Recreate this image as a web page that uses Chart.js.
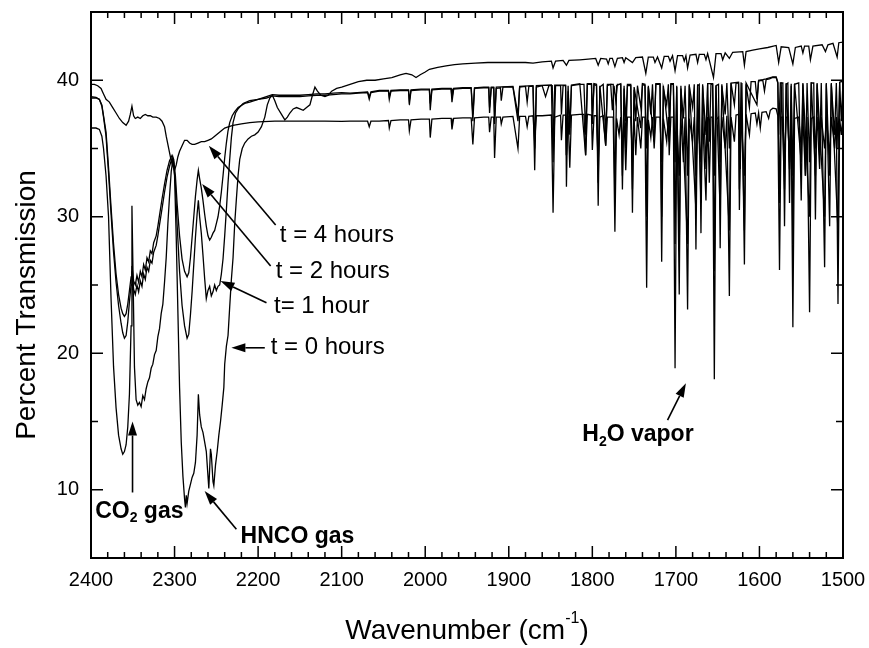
<!DOCTYPE html>
<html>
<head>
<meta charset="utf-8">
<title>Percent Transmission vs Wavenumber</title>
<script src="https://cdn.jsdelivr.net/npm/chart.js@4.4.0/dist/chart.umd.min.js"></script>
<style>
  html, body { margin: 0; padding: 0; background: #fff; }
  #wrap { width: 869px; height: 648px; }
</style>
</head>
<body>
<div id="wrap"><canvas id="spectrum" width="869" height="648"></canvas></div>
<script>
// [wavenumber cm-1, percent transmission]
const t0Hours = [
  [2400, 36.5], [2394, 36.5], [2390, 36.4], [2387, 35.9], [2385, 35.0], [2382, 33.0], [2379, 30.0],
  [2376, 24.0], [2373, 19.0], [2370, 16.0], [2367, 14.0], [2364, 13.0], [2362, 12.6], [2360, 12.8],
  [2358, 13.3], [2356, 14.6], [2354, 17.0], [2352, 22.0], [2351, 30.8], [2350, 27.0], [2348, 19.0],
  [2346, 16.6], [2344, 16.2], [2342, 16.4], [2340, 16.1], [2338, 16.9], [2336, 16.6], [2334, 17.4],
  [2332, 17.9], [2330, 18.2], [2328, 18.9], [2326, 19.2], [2324, 19.9], [2322, 20.2], [2320, 21.2],
  [2318, 21.8], [2316, 22.9], [2314, 23.6], [2312, 25.2], [2310, 27.0], [2308, 29.5], [2306, 31.5],
  [2304, 33.3], [2302, 34.2], [2300, 33.0], [2298, 28.5], [2296, 23.0], [2294, 17.5], [2292, 13.5],
  [2290, 11.0], [2288, 9.3], [2287, 8.7], [2286, 9.6], [2285, 9.0], [2283, 9.9], [2281, 10.4],
  [2279, 10.9], [2277, 11.2], [2275, 12.0], [2273, 14.0], [2271.5, 17.0], [2270, 15.5], [2268, 14.6],
  [2266, 14.2], [2264, 13.5], [2262, 12.8], [2260, 11.0], [2259, 10.1], [2258, 11.5], [2257, 13.0],
  [2256, 12.6], [2254, 10.6], [2253, 10.3], [2251, 11.8], [2249, 12.8], [2247, 14.0], [2245, 15.0],
  [2243, 16.2], [2241, 17.5], [2240, 19.2], [2238, 20.5], [2236, 21.3], [2234, 23.4], [2232, 25.4],
  [2230, 27.0], [2228, 29.5], [2226, 31.3], [2224, 33.0], [2222, 34.2], [2219, 35.0], [2216, 35.4],
  [2212, 35.7], [2208, 35.9], [2204, 36.0], [2200, 36.2], [2196, 36.6], [2192, 37.3], [2189, 38.2],
  [2186, 38.7], [2183, 38.9], [2180, 38.5], [2177, 38.0], [2172, 37.5], [2168, 37.1], [2165, 37.3],
  [2162, 37.6], [2158, 37.9], [2154, 38.0], [2150, 37.9], [2146, 37.8], [2142, 38.0], [2138, 38.2],
  [2135, 38.9], [2132, 39.5], [2129, 39.2], [2125, 38.9], [2120, 38.8], [2116, 38.9], [2112, 39.2],
  [2106, 39.4], [2100, 39.5], [2090, 39.7], [2080, 39.9], [2070, 40.0], [2060, 40.0], [2050, 40.1],
  [2040, 40.2], [2030, 40.4], [2023, 40.5], [2016, 40.4], [2011, 40.2], [2006, 40.4], [2000, 40.6],
  [1995, 40.8], [1985, 40.95], [1975, 41.05], [1965, 41.15], [1955, 41.2], [1940, 41.25], [1925, 41.3],
  [1910, 41.3], [1895, 41.3], [1880, 41.3], [1871, 41.25], [1860, 41.35], [1849, 41.4], [1847, 40.9],
  [1844, 41.4], [1835, 41.45], [1831, 41.1], [1828, 41.45], [1815, 41.5], [1805, 41.55], [1796, 41.6],
  [1793, 41.1], [1790, 41.6], [1783, 41.55], [1781, 41.2], [1779, 41.6], [1776, 41.6], [1773, 41.0],
  [1770, 41.6], [1764, 41.65], [1762, 41.3], [1760, 41.65], [1752, 41.3], [1748, 41.65], [1740, 41.7],
  [1736, 40.5], [1733, 41.7], [1727, 41.7], [1725, 41.3], [1722, 41.7], [1717, 40.9], [1714, 41.75],
  [1709, 41.75], [1707, 41.4], [1704, 41.8], [1701, 40.7], [1698, 41.8], [1692, 41.8], [1690, 41.4],
  [1688, 41.8], [1686, 40.9], [1683, 41.85], [1676, 41.9], [1674, 41.3], [1672, 41.9], [1666, 41.9],
  [1664, 41.5], [1662, 41.95], [1655, 40.2], [1652, 41.95], [1646, 41.95], [1644, 41.5], [1641, 42.0],
  [1636, 41.6], [1632, 42.05], [1620, 42.1], [1618, 41.1], [1616, 42.1], [1608, 42.2], [1600, 42.3],
  [1590, 42.4], [1580, 42.55], [1577, 41.3], [1574, 42.45], [1565, 42.4], [1560, 41.2], [1557, 42.4],
  [1550, 42.5], [1548, 42.0], [1546, 42.5], [1541, 42.5], [1539, 41.5], [1536, 42.5], [1525, 42.6],
  [1521, 42.1], [1518, 42.6], [1512, 42.7], [1507, 41.7], [1505, 42.75], [1500, 42.8]
];

const t1Hour = [
  [2400, 38.7], [2394, 38.7], [2390, 38.6], [2387, 38.1], [2385, 37.3], [2382, 35.9], [2379, 33.2],
  [2376, 30.2], [2373, 27.4], [2370, 25.2], [2367, 23.5], [2364, 22.2], [2362, 21.5], [2360, 21.1],
  [2358, 21.3], [2356, 22.3], [2354, 23.8], [2352, 25.0], [2351, 26.0], [2349, 24.7], [2347, 24.3],
  [2345, 25.0], [2343, 24.5], [2341, 25.3], [2339, 24.9], [2337, 25.8], [2335, 25.4], [2333, 26.3],
  [2331, 26.0], [2329, 26.8], [2327, 26.6], [2325, 27.4], [2322, 27.9], [2320, 28.6], [2318, 29.4],
  [2315, 30.6], [2312, 31.8], [2309, 32.9], [2306, 33.7], [2303, 34.3], [2301, 34.0], [2299, 32.3],
  [2297, 29.5], [2294, 26.0], [2291, 23.5], [2288, 22.0], [2285, 21.1], [2283, 21.4], [2281, 22.8],
  [2279, 24.5], [2277, 26.5], [2275, 28.5], [2273, 30.2], [2271.5, 31.2], [2270, 30.0], [2268, 28.8],
  [2266, 27.2], [2264, 25.5], [2262, 24.0], [2260, 24.6], [2258, 24.9], [2256, 24.2], [2254, 24.5],
  [2252, 25.0], [2250, 24.6], [2248, 24.9], [2246, 25.0], [2244, 25.8], [2242, 26.9], [2240, 28.6],
  [2238, 30.5], [2236, 32.5], [2234, 34.2], [2232, 35.8], [2230, 36.9], [2227, 37.6], [2224, 37.9],
  [2218, 38.3], [2210, 38.5], [2200, 38.6], [2190, 38.7], [2183, 38.85], [2175, 38.8], [2165, 38.8],
  [2150, 38.8], [2140, 38.85], [2130, 38.9], [2120, 38.9], [2110, 38.95], [2100, 39.0],
  [2090, 39.0], [2080, 39.05], [2069, 39.1], [2067, 38.6], [2065, 39.1], [2055, 39.2], [2044, 39.2],
  [2043, 38.6], [2041, 39.2], [2030, 39.25], [2020, 39.25], [2019, 38.2], [2017, 39.25], [2005, 39.3],
  [1995, 39.3], [1994, 37.8], [1992, 39.3], [1980, 39.35], [1969, 39.35], [1968, 38.4], [1966, 39.35],
  [1955, 39.4], [1945, 39.4], [1943, 37.0], [1941, 39.4], [1930, 39.45], [1924, 39.45], [1923, 37.6],
  [1921, 39.45], [1918, 39.45], [1917, 36.8], [1915, 39.4], [1910, 39.45], [1909, 38.5], [1907, 39.5],
  [1895, 39.5], [1889, 37.0], [1887, 39.5], [1880, 39.55], [1878, 38.4], [1876, 39.55], [1871, 39.55],
  [1869, 33.4], [1867, 39.5], [1860, 39.6], [1856, 38.8], [1852, 39.6], [1848, 39.6], [1846, 35.5],
  [1844, 39.6], [1838, 39.6], [1837, 37.5], [1835, 39.6], [1832, 39.6], [1831, 32.2], [1829, 39.2],
  [1827, 36.5], [1825, 39.6], [1815, 39.7], [1810, 39.7], [1808, 36.0], [1806, 39.7], [1801, 39.7],
  [1800, 37.2], [1798, 39.7], [1795, 39.6], [1793, 30.8], [1791, 39.5], [1787, 39.7], [1784, 36.0],
  [1782, 39.6], [1778, 39.7], [1776, 37.8], [1774, 39.6], [1772, 38.5], [1770, 39.7], [1766, 39.7],
  [1764, 32.0], [1762, 39.4], [1760, 37.0], [1758, 39.6], [1754, 39.6], [1752, 30.3], [1750, 39.3],
  [1748, 37.0], [1746, 39.6], [1742, 38.0], [1740, 39.7], [1737, 39.6], [1735, 35.0], [1733, 39.5],
  [1730, 37.5], [1728, 39.7], [1726, 36.5], [1724, 39.7], [1719, 39.7], [1717, 26.7], [1715, 39.4],
  [1711, 38.2], [1709, 39.7], [1708, 36.8], [1706, 39.7], [1703, 39.7], [1701, 34.0], [1699, 39.5],
  [1696, 24.3], [1694, 39.4], [1691, 37.2], [1689, 39.6], [1686, 33.0], [1684, 39.6], [1680, 38.0],
  [1678, 39.7], [1676, 27.6], [1674, 39.6], [1672, 39.7], [1670, 28.8], [1668, 39.6], [1664, 36.0],
  [1662, 39.7], [1660, 35.5], [1658, 39.7], [1656, 39.7], [1654, 33.0], [1652, 39.6], [1649, 39.7],
  [1647, 27.7], [1645, 39.6], [1641, 37.5], [1639, 39.8], [1636, 35.0], [1634, 39.8], [1630, 38.2],
  [1628, 39.8], [1625, 39.8], [1623, 33.5], [1621, 39.8], [1618, 26.5], [1616, 39.7], [1612, 38.0],
  [1610, 39.9], [1605, 39.9], [1603, 38.6], [1601, 39.95], [1596, 40.0], [1594, 39.2], [1592, 40.05],
  [1588, 40.1], [1584, 40.2], [1580, 40.2], [1578, 39.8], [1577, 36.0], [1575, 39.8], [1572, 39.8],
  [1570, 29.3], [1568, 39.7], [1566, 39.8], [1564, 31.0], [1562, 39.6], [1560, 33.0], [1558, 39.7],
  [1553, 39.8], [1550, 31.2], [1548, 39.7], [1545, 33.0], [1543, 39.8], [1540, 34.0], [1538, 39.8],
  [1535, 39.8], [1533, 29.8], [1531, 39.7], [1528, 34.5], [1526, 39.8], [1522, 26.3], [1520, 39.7],
  [1516, 29.3], [1514, 39.7], [1510, 36.0], [1508, 39.8], [1506, 35.0], [1504, 39.8], [1502, 37.0],
  [1500, 39.9]
];

const t2Hours = [
  [2400, 38.8], [2394, 38.75], [2390, 38.6], [2387, 38.2], [2385, 37.4], [2382, 36.2], [2379, 33.6],
  [2376, 30.7], [2373, 28.0], [2370, 25.8], [2367, 24.3], [2364, 23.3], [2362, 22.9], [2360, 22.7],
  [2358, 22.9], [2356, 23.6], [2354, 24.6], [2352, 25.6], [2351, 26.4], [2349, 25.3], [2347, 25.0],
  [2345, 25.7], [2343, 25.2], [2341, 26.0], [2339, 25.6], [2337, 26.5], [2335, 26.1], [2333, 27.0],
  [2331, 26.7], [2329, 27.5], [2327, 27.3], [2325, 28.1], [2322, 28.6], [2320, 29.3], [2318, 30.1],
  [2315, 31.3], [2312, 32.4], [2309, 33.4], [2306, 34.1], [2303, 34.5], [2301, 34.2], [2299, 33.0],
  [2297, 31.0], [2294, 28.6], [2291, 26.9], [2288, 26.0], [2285, 25.6], [2283, 25.9], [2281, 27.0],
  [2279, 28.5], [2277, 30.0], [2275, 31.5], [2273, 32.7], [2271.5, 33.4], [2270, 32.8], [2268, 32.1],
  [2266, 31.2], [2264, 30.2], [2262, 29.3], [2260, 28.6], [2258, 28.3], [2256, 28.5], [2254, 28.8],
  [2252, 29.0], [2250, 29.5], [2248, 30.0], [2246, 30.8], [2244, 31.8], [2242, 33.0], [2240, 34.3],
  [2238, 35.4], [2236, 36.3], [2234, 36.9], [2231, 37.4], [2228, 37.7], [2224, 38.0], [2216, 38.3],
  [2210, 38.4], [2200, 38.6], [2190, 38.8], [2183, 38.95], [2175, 38.9], [2165, 38.9], [2150, 38.9],
  [2140, 38.95], [2130, 39.0], [2120, 39.0], [2110, 39.05], [2100, 39.1],
  [2090, 39.05], [2069, 39.15], [2067, 38.8], [2065, 39.15], [2055, 39.25], [2044, 39.25], [2043, 38.8],
  [2041, 39.25], [2030, 39.3], [2020, 39.3], [2019, 38.5], [2017, 39.3], [2005, 39.35], [1995, 39.35],
  [1994, 38.3], [1992, 39.35], [1980, 39.4], [1969, 39.4], [1968, 38.7], [1966, 39.4], [1955, 39.45],
  [1945, 39.45], [1943, 37.5], [1941, 39.45], [1930, 39.5], [1924, 39.5], [1923, 38.0], [1921, 39.5],
  [1918, 39.5], [1917, 37.2], [1915, 39.5], [1895, 39.55], [1889, 37.5], [1887, 39.55], [1871, 39.6],
  [1869, 35.0], [1867, 39.6], [1849, 39.65], [1847, 34.0], [1845, 39.65], [1832, 39.65], [1831, 34.5],
  [1829, 39.6], [1827, 36.0], [1825, 39.65], [1815, 39.75], [1808, 34.5], [1806, 39.75], [1801, 39.75],
  [1800, 36.8], [1798, 39.75], [1795, 39.7], [1793, 32.5], [1791, 39.6], [1784, 35.2], [1782, 39.7],
  [1775, 39.7], [1773, 31.5], [1771, 39.6], [1766, 39.75], [1764, 33.0], [1762, 39.6], [1760, 35.0],
  [1758, 39.7], [1754, 39.7], [1752, 32.0], [1750, 39.5], [1742, 36.5], [1740, 39.75], [1737, 39.7],
  [1735, 30.0], [1733, 39.6], [1726, 35.5], [1724, 39.75], [1719, 39.75], [1717, 30.0], [1715, 39.6],
  [1708, 35.5], [1706, 39.75], [1703, 39.75], [1701, 28.0], [1699, 39.6], [1696, 27.5], [1694, 39.6],
  [1686, 28.0], [1684, 39.7], [1676, 30.5], [1674, 39.7], [1670, 31.0], [1668, 39.7], [1664, 33.5],
  [1662, 39.75], [1656, 39.75], [1654, 26.0], [1652, 39.6], [1647, 30.5], [1645, 39.7], [1636, 29.0],
  [1634, 39.8], [1625, 39.85], [1624, 32.0], [1622, 39.85], [1618, 29.0], [1616, 39.8], [1603, 38.2],
  [1601, 40.0], [1596, 40.05], [1592, 40.1], [1584, 40.25], [1580, 40.25], [1578, 39.85], [1576, 31.0],
  [1574, 39.85], [1570, 32.0], [1568, 39.8], [1564, 34.0], [1562, 39.75], [1560, 28.0], [1558, 39.75],
  [1550, 34.0], [1548, 39.8], [1540, 30.0], [1538, 39.85], [1533, 33.0], [1531, 39.8], [1522, 30.0],
  [1520, 39.8], [1516, 33.0], [1514, 39.8], [1506, 29.0], [1504, 39.85], [1500, 39.95]
];

const t4Hours = [
  [2400, 39.7], [2396, 39.7], [2392, 39.6], [2388, 39.4], [2385, 39.0], [2382, 38.6], [2378, 38.4],
  [2374, 38.0], [2370, 37.6], [2366, 37.2], [2362, 36.9], [2358, 36.7], [2355, 37.0], [2353, 37.5],
  [2351, 38.1], [2349, 37.4], [2347, 37.2], [2344, 37.3], [2341, 37.2], [2338, 37.4], [2335, 37.5],
  [2332, 37.4], [2329, 37.4], [2326, 37.3], [2322, 37.3], [2318, 37.2], [2315, 37.0], [2312, 36.6],
  [2310, 35.9], [2308, 35.3], [2306, 34.7], [2304, 34.1], [2302, 33.7], [2300, 33.4], [2298, 33.8],
  [2296, 34.4], [2294, 34.8], [2291, 35.2], [2288, 35.6], [2285, 35.6], [2282, 35.4], [2279, 35.3],
  [2276, 35.3], [2272, 35.4], [2268, 35.5], [2264, 35.5], [2260, 35.6], [2256, 35.7], [2252, 35.9],
  [2248, 36.1], [2244, 36.3], [2240, 36.5], [2235, 36.6], [2230, 36.7], [2225, 36.75], [2220, 36.8],
  [2210, 36.9], [2200, 36.95], [2180, 37.0], [2160, 37.0], [2140, 37.0], [2120, 37.0], [2100, 36.98],
  [2090, 37.0], [2069, 37.0], [2067, 36.6], [2065, 37.0], [2055, 37.0], [2044, 37.05], [2043, 36.5],
  [2041, 37.05], [2030, 37.1], [2020, 37.1], [2019, 36.3], [2017, 37.1], [2005, 37.15], [1995, 37.15],
  [1994, 35.8], [1992, 37.15], [1980, 37.2], [1969, 37.2], [1968, 36.4], [1966, 37.2], [1955, 37.25],
  [1945, 37.25], [1943, 35.3], [1941, 37.25], [1930, 37.3], [1924, 37.3], [1923, 36.2], [1921, 37.3],
  [1918, 37.3], [1917, 34.3], [1915, 37.3], [1910, 37.3], [1909, 36.8], [1907, 37.3], [1895, 37.35],
  [1889, 35.0], [1887, 37.35], [1880, 37.35], [1878, 36.6], [1876, 37.35], [1871, 37.4], [1869, 35.5],
  [1867, 37.4], [1860, 37.4], [1849, 37.45], [1847, 30.3], [1845, 37.3], [1838, 37.45], [1837, 35.6],
  [1835, 37.45], [1832, 37.45], [1831, 34.5], [1829, 37.4], [1827, 33.6], [1825, 37.45], [1815, 37.5],
  [1810, 37.5], [1808, 34.5], [1806, 37.5], [1801, 37.45], [1800, 34.9], [1798, 37.4], [1795, 37.4],
  [1793, 34.0], [1791, 37.3], [1787, 37.4], [1784, 35.2], [1782, 37.3], [1775, 37.3], [1773, 28.9],
  [1771, 37.2], [1768, 36.0], [1766, 37.3], [1764, 35.0], [1762, 37.2], [1760, 33.4], [1758, 37.3],
  [1754, 37.3], [1752, 34.0], [1750, 37.2], [1748, 34.5], [1746, 37.3], [1742, 35.0], [1740, 37.3],
  [1737, 37.3], [1735, 24.8], [1733, 37.1], [1730, 35.8], [1728, 37.3], [1726, 35.0], [1724, 37.3],
  [1719, 37.3], [1717, 34.0], [1715, 37.2], [1711, 35.5], [1709, 37.3], [1708, 34.5], [1706, 37.3],
  [1703, 37.3], [1701, 18.9], [1699, 37.1], [1696, 33.0], [1694, 37.2], [1691, 34.0], [1689, 37.3],
  [1686, 23.2], [1684, 37.2], [1680, 35.5], [1678, 37.3], [1676, 33.0], [1674, 37.3], [1670, 34.0],
  [1668, 37.3], [1664, 31.2], [1662, 37.3], [1660, 32.5], [1658, 37.3], [1656, 37.3], [1654, 18.1],
  [1652, 37.1], [1649, 37.3], [1647, 34.0], [1645, 37.3], [1641, 35.0], [1639, 37.4], [1636, 24.2],
  [1634, 37.3], [1630, 35.5], [1628, 37.45], [1625, 37.5], [1624, 30.5], [1622, 37.5], [1618, 33.0],
  [1616, 37.5], [1612, 36.0], [1610, 37.55], [1605, 37.6], [1603, 36.8], [1601, 37.6], [1599, 36.5],
  [1597, 37.65], [1592, 37.7], [1589, 37.2], [1587, 37.8], [1584, 37.95], [1580, 37.9], [1578, 37.4],
  [1576, 26.1], [1574, 37.3], [1572, 37.3], [1570, 34.0], [1568, 37.3], [1566, 37.3], [1564, 33.5],
  [1562, 37.2], [1560, 21.9], [1558, 37.2], [1553, 37.3], [1550, 35.0], [1548, 37.3], [1545, 33.0],
  [1543, 37.3], [1540, 23.0], [1538, 37.2], [1535, 37.3], [1533, 35.0], [1531, 37.3], [1528, 33.5],
  [1526, 37.3], [1522, 35.0], [1520, 37.3], [1516, 34.5], [1514, 37.3], [1510, 35.0], [1508, 37.3],
  [1506, 23.6], [1504, 37.2], [1502, 36.0], [1500, 37.4]
];

const xTickLabels = [2400, 2300, 2200, 2100, 2000, 1900, 1800, 1700, 1600, 1500];
const yTickLabels = [10, 20, 30, 40];

// text notes on the plot; anchor and arrow ends are in data units
const notes = [
  { parts: [['t = 4 hours', '']], bold: false, at: [2174, 28.6], arrow: [[2179, 29.4], [2259, 35.2]] },
  { parts: [['t = 2 hours', '']], bold: false, at: [2179, 26.0], arrow: [[2185, 26.4], [2267, 32.4]] },
  { parts: [['t= 1 hour', '']], bold: false, at: [2181, 23.4], arrow: [[2190, 23.7], [2245, 25.3]] },
  { parts: [['t = 0 hours', '']], bold: false, at: [2185, 20.4], arrow: [[2192, 20.4], [2232, 20.4]] },
  { parts: [['CO', ''], ['2', 'sub'], [' gas', '']], bold: true, at: [2395, 8.4], arrow: [[2350.3, 9.8], [2350.3, 15.0]] },
  { parts: [['HNCO gas', '']], bold: true, at: [2221, 6.6], arrow: [[2226, 7.1], [2264, 9.9]] },
  { parts: [['H', ''], ['2', 'sub'], ['O vapor', '']], bold: true, at: [1812, 14.0], arrow: [[1710, 15.1], [1688, 17.8]] }
];

const FONT = '"Liberation Sans", Arial, Helvetica, sans-serif';
Chart.defaults.font.family = FONT;
Chart.defaults.color = '#000';

function drawArrow(ctx, x1, y1, x2, y2) {
  const ang = Math.atan2(y2 - y1, x2 - x1);
  const head = 14, half = 4.5;
  const bx = x2 - head * Math.cos(ang), by = y2 - head * Math.sin(ang);
  ctx.beginPath();
  ctx.moveTo(x1, y1);
  ctx.lineTo(bx, by);
  ctx.stroke();
  ctx.beginPath();
  ctx.moveTo(x2, y2);
  ctx.lineTo(bx + half * Math.sin(ang), by - half * Math.cos(ang));
  ctx.lineTo(bx - half * Math.sin(ang), by + half * Math.cos(ang));
  ctx.closePath();
  ctx.fill();
}

// keep the plot box where the figure has it, ignore label overflow padding
function noPad(s) {
  s.paddingLeft = 0; s.paddingRight = 0; s.paddingTop = 0; s.paddingBottom = 0;
}

const framePlugin = {
  id: 'frame',
  afterDraw(chart) {
    const { ctx, chartArea: a, scales: { x, y } } = chart;
    ctx.save();
    ctx.strokeStyle = '#000';
    ctx.fillStyle = '#000';
    ctx.lineWidth = 2;
    ctx.strokeRect(a.left, a.top, a.right - a.left, a.bottom - a.top);

    // inward ticks on all four sides
    ctx.lineWidth = 1.5;
    ctx.beginPath();
    for (let wn = 1500; wn <= 2400; wn += 20) {
      const px = x.getPixelForValue(wn);
      const len = wn % 100 === 0 ? 12 : 6;
      ctx.moveTo(px, a.bottom); ctx.lineTo(px, a.bottom - len);
      ctx.moveTo(px, a.top); ctx.lineTo(px, a.top + len);
    }
    for (let v = 5; v <= 45; v += 5) {
      const py = y.getPixelForValue(v);
      const len = v % 10 === 0 ? 12 : 7;
      ctx.moveTo(a.left, py); ctx.lineTo(a.left + len, py);
      ctx.moveTo(a.right, py); ctx.lineTo(a.right - len, py);
    }
    ctx.stroke();

    // annotations
    ctx.lineWidth = 1.6;
    ctx.textBaseline = 'middle';
    ctx.textAlign = 'left';
    notes.forEach(n => {
      let tx = x.getPixelForValue(n.at[0]);
      const ty = y.getPixelForValue(n.at[1]);
      const w = n.bold ? 'bold ' : '';
      n.parts.forEach(([txt, kind]) => {
        if (kind === 'sub') {
          ctx.font = w + '14px ' + FONT;
          ctx.fillText(txt, tx, ty + 7);
        } else {
          ctx.font = w + (n.bold ? '23px ' : '24px ') + FONT;
          ctx.fillText(txt, tx, ty);
        }
        tx += ctx.measureText(txt).width;
      });
      const [p, q] = n.arrow;
      drawArrow(ctx, x.getPixelForValue(p[0]), y.getPixelForValue(p[1]),
        x.getPixelForValue(q[0]), y.getPixelForValue(q[1]));
    });

    // axis titles
    ctx.font = '28px ' + FONT;
    ctx.textAlign = 'center';
    ctx.save();
    ctx.translate(27, 305);
    ctx.rotate(-Math.PI / 2);
    ctx.fillText('Percent Transmission', 0, 0);
    ctx.restore();

    const main = 'Wavenumber (cm', sup = '-1', close = ')';
    ctx.font = '28px ' + FONT;
    const wMain = ctx.measureText(main).width, wClose = ctx.measureText(close).width;
    ctx.font = '16px ' + FONT;
    const wSup = ctx.measureText(sup).width;
    let sx = 467 - (wMain + wSup + wClose) / 2;
    const sy = 631;
    ctx.textAlign = 'left';
    ctx.font = '28px ' + FONT;
    ctx.fillText(main, sx, sy);
    sx += wMain;
    ctx.font = '16px ' + FONT;
    ctx.fillText(sup, sx, sy - 12);
    sx += wSup;
    ctx.font = '28px ' + FONT;
    ctx.fillText(close, sx, sy);
    ctx.restore();
  }
};

function series(points) {
  return {
    data: points,
    borderColor: '#000',
    borderWidth: 1.3,
    pointRadius: 0,
    showLine: true,
    fill: false,
    tension: 0
  };
}

new Chart(document.getElementById('spectrum'), {
  type: 'scatter',
  data: {
    datasets: [series(t0Hours), series(t1Hour), series(t2Hours), series(t4Hours)]
  },
  options: {
    responsive: false,
    animation: false,
    layout: { padding: { left: 0, top: 12, right: 26, bottom: 0 } },
    plugins: { legend: { display: false }, tooltip: { enabled: false } },
    scales: {
      x: {
        type: 'linear',
        min: 1500,
        max: 2400,
        reverse: true,
        grid: { display: false, drawTicks: false },
        border: { display: false },
        afterBuildTicks: s => { s.ticks = xTickLabels.map(v => ({ value: v })); },
        afterFit: s => { s.height = 90; noPad(s); },
        ticks: { font: { size: 20 }, padding: 10, maxRotation: 0, autoSkip: false, callback: v => String(v) }
      },
      y: {
        type: 'linear',
        min: 5,
        max: 45,
        grid: { display: false, drawTicks: false },
        border: { display: false },
        afterBuildTicks: s => { s.ticks = yTickLabels.map(v => ({ value: v })); },
        afterFit: s => { s.width = 91; noPad(s); },
        ticks: { font: { size: 20 }, padding: 12, callback: v => String(v) }
      }
    }
  },
  plugins: [framePlugin]
});
</script>
</body>
</html>
